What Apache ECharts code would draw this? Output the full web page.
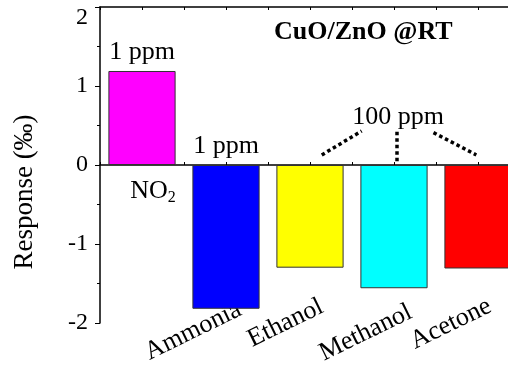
<!DOCTYPE html>
<html>
<head>
<meta charset="utf-8">
<script src="https://cdn.jsdelivr.net/npm/echarts@6/dist/echarts.min.js"></script>
<style>
html,body{margin:0;padding:0;background:#fff;}
#chart{width:508px;height:370px;}
</style>
</head>
<body>
<div id="chart"></div>
<script>
// ---- data ----
const categories = ['NO2', 'Ammonia', 'Ethanol', 'Methanol', 'Acetone'];
const responses = [1.19, -1.82, -1.30, -1.56, -1.31];
const barColors = ['#ff00ff', '#0000ff', '#ffff00', '#00ffff', '#ff0000'];
const concLabels = ['1 ppm', '1 ppm', '', '', ''];
const yTicks = [-2, -1, 0, 1, 2];
const chartTitle = 'CuO/ZnO @RT';
const yTitle = 'Response (‰)';
// leader lines from the "100 ppm" note to the three bars (x in category units, y in response units)
const leaderLines = [
  [[2.14, 0.127], [2.615, 0.43]],
  [[3.03, 0.42], [3.03, 0.02]],
  [[3.47, 0.41], [3.98, 0.127]]
];
// annotation anchors (x in category units, y in response units)
const notes = [
  { text: '{n|100 ppm}', x: 3.05, y: 0.60 },
  { text: '{n|NO}{s|2}', x: 0.13, y: -0.33 }
];

const FONT = 'Liberation Serif, Times New Roman, serif';
const labelPads = [[0,0,0,0],[72,2,0,0],[65,2.7,0,0],[79,0.9,0,0],[64,2.3,0,0]];
const rich = {};
labelPads.forEach((p, i) => {
  rich['c' + i] = { fontSize: 26, fontFamily: FONT, color: '#000', padding: p };
});

const chart = echarts.init(document.getElementById('chart'), null, { renderer: 'canvas' });
chart.setOption({
  backgroundColor: '#fff',
  animation: false,
  title: {
    text: chartTitle,
    left: 269, top: 14,
    textStyle: { fontFamily: FONT, fontSize: 26, fontWeight: 'bold', color: '#000' }
  },
  grid: { left: 100, top: 7, width: 420, height: 316, outerBoundsMode: 'none', containLabel: false },
  xAxis: [
    {
      type: 'category', data: categories, position: 'bottom',
      axisLine: { show: false, onZero: false }, axisTick: { show: false },
      splitLine: { show: false },
      axisLabel: {
        rotate: 26, margin: -48, interval: 0, hideOverlap: false,
        formatter: (v, i) => i === 0 ? '' : '{c' + i + '|' + v + '}',
        rich: rich
      }
    },
    {
      type: 'value', min: -0.5, max: 4.5, interval: 0.5, position: 'bottom',
      axisLine: { show: true, onZero: true, lineStyle: { color: '#000', width: 1.5 } },
      axisTick: { show: true, inside: true, length: 3, lineStyle: { color: '#000' } },
      axisLabel: { show: false }, splitLine: { show: false }
    },
    {
      type: 'value', min: -0.5, max: 4.5, interval: 0.5, position: 'top',
      axisLine: { show: true, onZero: false, lineStyle: { color: '#000', width: 1.5 } },
      axisTick: { show: true, inside: true, length: 3, lineStyle: { color: '#000' } },
      axisLabel: { show: false }, splitLine: { show: false }
    }
  ],
  yAxis: {
    type: 'value', min: yTicks[0], max: yTicks[yTicks.length - 1], interval: 1,
    name: yTitle, nameLocation: 'middle', nameRotate: 90, nameGap: 62,
    nameTextStyle: { fontFamily: FONT, fontSize: 27, color: '#000', padding: [0, 54, 0, 0] },
    axisLine: { show: true, onZero: false, lineStyle: { color: '#000', width: 1.5 } },
    axisTick: { show: true, length: 5, lineStyle: { color: '#000' } },
    minorTick: { show: true, splitNumber: 2, length: 3, lineStyle: { color: '#000' } },
    splitLine: { show: false }, minorSplitLine: { show: false },
    axisLabel: {
      fontFamily: FONT, fontSize: 24, color: '#000', margin: 12,
      formatter: v => v === yTicks[yTicks.length - 1] ? '{t|' + v + '}' : String(v),
      rich: { t: { fontFamily: FONT, fontSize: 24, color: '#000', padding: [22, 0, 0, 0] } }
    }
  },
  series: [
    {
      type: 'bar', xAxisIndex: 0, yAxisIndex: 0, barWidth: '80%',
      data: responses.map((v, i) => ({
        value: v,
        itemStyle: { color: barColors[i], borderColor: '#333', borderWidth: 1 },
        label: {
          show: concLabels[i] !== '', formatter: concLabels[i], position: 'top', distance: 6,
          fontFamily: FONT, fontSize: 26, color: '#000'
        }
      }))
    },
    {
      type: 'lines', coordinateSystem: 'cartesian2d', xAxisIndex: 1, yAxisIndex: 0,
      polyline: false, silent: true,
      lineStyle: { color: '#000', width: 3.5, type: [3.5, 3], opacity: 1, cap: 'butt' },
      data: leaderLines.map(seg => ({ coords: seg }))
    },
    {
      type: 'scatter', xAxisIndex: 1, yAxisIndex: 0, symbolSize: 1, silent: true,
      itemStyle: { color: '#fff', opacity: 0 },
      label: {
        show: true, position: 'inside', color: '#000', opacity: 1,
        textBorderWidth: 0, textShadowBlur: 0,
        formatter: p => notes[p.dataIndex].text,
        rich: {
          n: { fontFamily: FONT, fontSize: 26, color: '#000', textBorderWidth: 0 },
          s: { fontFamily: FONT, fontSize: 16, color: '#000', textBorderWidth: 0, verticalAlign: 'bottom', padding: [14, 0, 0, 0] }
        }
      },
      data: notes.map(n => [n.x, n.y])
    }
  ]
});
</script>
</body>
</html>
